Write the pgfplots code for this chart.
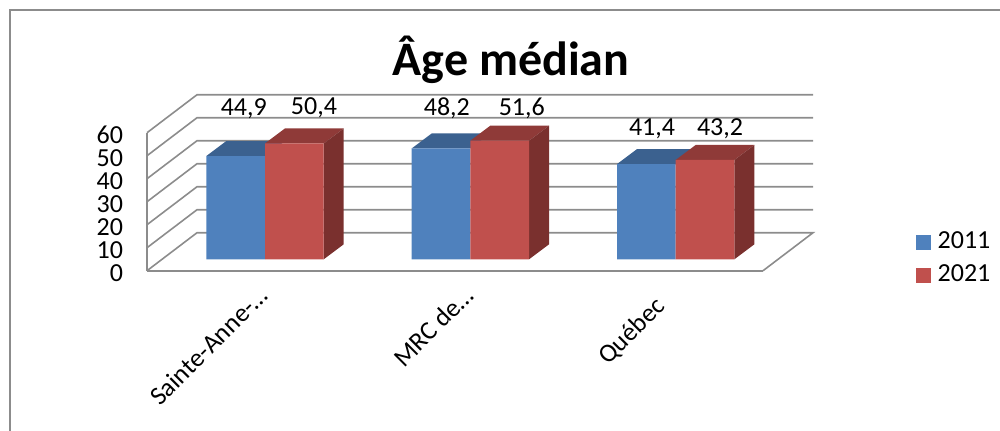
\documentclass[border=0pt]{standalone}
\usepackage{fontspec}
\setmainfont{Carlito}
\usepackage{pgfplots}
\usepackage{pgfplotstable}
\pgfplotsset{compat=1.18}

\definecolor{wallgray}{HTML}{8C8C8C}
\definecolor{blueface}{HTML}{4F81BD}
\definecolor{bluetop}{HTML}{3B618F}
\definecolor{redface}{HTML}{C0504D}
\definecolor{redtop}{HTML}{8F3A38}
\definecolor{redside}{HTML}{7A302E}

% x value lx ly, the last two move the data label (pt)
\pgfplotstableread{
x value lx ly
0 44.9 -15.9 35.5
1 48.2 -17.6 29.8
2 41.4 -17.7 26.5
}\tableA
\pgfplotstableread{
x value lx ly
0 50.4 36.7 26.5
1 51.6 38.6 24.0
2 43.2 33.3 23.5
}\tableB

\newcommand{\lbl}{\fontsize{19.5}{22}\selectfont}

\pgfplotsset{
  wall/.style={draw=wallgray, line width=1.2pt, forget plot},
  depth/.style={xshift=11.5pt, yshift=8.55pt},
  face/.style={draw=none, fill=#1, depth, forget plot},
  bar3d/.style 2 args={
    ybar, bar width=44pt, bar shift=#2, draw=none, fill=#1, depth,
    nodes near coords,
    visualization depends on={\thisrow{lx} \as \lx},
    visualization depends on={\thisrow{ly} \as \ly},
    every node near coord/.append style={
      anchor=center, xshift=\lx pt, yshift=\ly pt, font=\lbl, text=black,
      /pgf/number format/.cd, fixed, fixed zerofill, precision=1, use comma,
      assume math mode=true},
  },
}

\begin{document}
\begin{tikzpicture}
  \useasboundingbox (0,0) rectangle (750pt,323.25pt);
  \draw[wallgray, line width=1.4pt] (7.5pt,0) -- (7.5pt,316pt) -- (750pt,316pt);
  \begin{axis}[
      at={(110.25pt,120.2pt)},
      anchor=south west,
      scale only axis,
      width=462pt,
      height=103.5pt,
      xmin=-0.5, xmax=2.5,
      ymin=0, ymax=60,
      clip=false,
      axis lines*=left,
      axis line style={draw=wallgray, line width=1.3pt, -},
      tick style={draw=none},
      xtick={0,1},
      xticklabels={Sainte-Anne-…, MRC de…},
      x tick label style={rotate=45, anchor=north east, font=\lbl, yshift=-7.75pt},
      extra x ticks={2},
      extra x tick labels={Québec},
      % shifts here run along the rotated text
      extra x tick style={x tick label style={xshift=-13.2pt, yshift=1.95pt}},
      ytick distance=10,
      y tick label style={font=\lbl, xshift=-14.5pt, yshift=-1.6pt},
      /pgf/number format/assume math mode=true,
      title={Âge médian},
      title style={at={(0.591,1.469)}, anchor=center,
        font=\fontsize{36}{41}\selectfont\bfseries},
      legend style={at={(1.248,0.097)}, anchor=west, draw=none, fill=none,
        font=\lbl, row sep=6.2pt, inner sep=0pt},
      legend cell align=left,
      legend image code/.code={
        \fill[#1] (0pt,-15.35pt) rectangle (11.2pt,-4.15pt);
        \path (14.2pt,0);
      },
    ]
    % walls and floor
    \addplot[wall] coordinates {(2.5,0) (2.7435,16.52) (-0.2565,16.52) (-0.5,0)};
    \addplot[wall] coordinates {(-0.5,10) (-0.2565,26.52) (2.7435,26.52)};
    \addplot[wall] coordinates {(-0.5,20) (-0.2565,36.52) (2.7435,36.52)};
    \addplot[wall] coordinates {(-0.5,30) (-0.2565,46.52) (2.7435,46.52)};
    \addplot[wall] coordinates {(-0.5,40) (-0.2565,56.52) (2.7435,56.52)};
    \addplot[wall] coordinates {(-0.5,50) (-0.2565,66.52) (2.7435,66.52)};
    \addplot[wall] coordinates {(-0.5,60) (-0.2565,76.52) (2.7435,76.52)};

    % tops of the 2011 bars
    \addplot[face=bluetop] coordinates {(-0.2859,44.9) (0,44.9) (0.0974,51.42) (-0.1885,51.42)};
    \addplot[face=bluetop] coordinates {(0.7141,48.2) (1,48.2) (1.0974,54.72) (0.8115,54.72)};
    \addplot[face=bluetop] coordinates {(1.7141,41.4) (2,41.4) (2.0974,47.92) (1.8115,47.92)};
    \addplot[bar3d={blueface}{-22pt}] table[x=x, y=value] {\tableA};
    \addlegendentry{2011}

    % tops and sides of the 2021 bars
    \addplot[face=redtop] coordinates {(0,50.4) (0.2859,50.4) (0.3833,56.92) (0.0974,56.92)};
    \addplot[face=redtop] coordinates {(1,51.6) (1.2859,51.6) (1.3833,58.12) (1.0974,58.12)};
    \addplot[face=redtop] coordinates {(2,43.2) (2.2859,43.2) (2.3833,49.72) (2.0974,49.72)};
    \addplot[face=redside] coordinates {(0.2859,0) (0.3833,6.52) (0.3833,56.92) (0.2859,50.4)};
    \addplot[face=redside] coordinates {(1.2859,0) (1.3833,6.52) (1.3833,58.12) (1.2859,51.6)};
    \addplot[face=redside] coordinates {(2.2859,0) (2.3833,6.52) (2.3833,49.72) (2.2859,43.2)};
    \addplot[bar3d={redface}{22pt}] table[x=x, y=value] {\tableB};
    \addlegendentry{2021}
  \end{axis}
\end{tikzpicture}
\end{document}
